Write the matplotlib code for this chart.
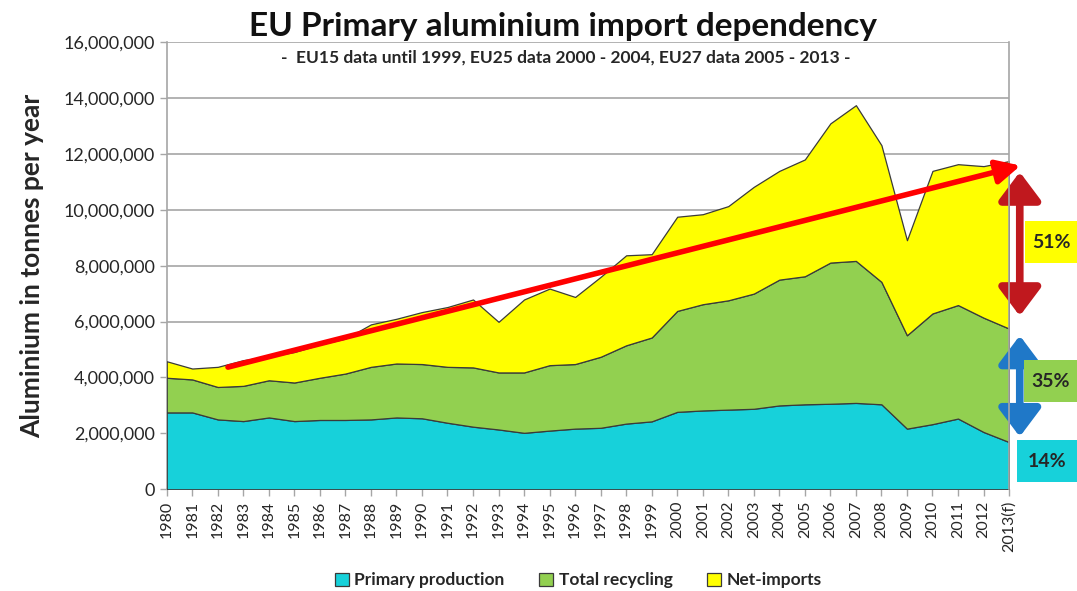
import matplotlib.pyplot as plt
from matplotlib.patches import Rectangle
import numpy as np

# ── Data (tonnes per year) ─────────────────────────────────────────────────
YEARS = list(range(1980, 2014))
YEAR_LABELS = [str(y) for y in range(1980, 2013)] + ["2013(f)"]

PRIMARY = [2.75, 2.75, 2.50, 2.44, 2.57, 2.44, 2.48, 2.48, 2.50, 2.57,
           2.54, 2.38, 2.24, 2.14, 2.02, 2.10, 2.17, 2.20, 2.35, 2.43,
           2.77, 2.82, 2.85, 2.88, 3.00, 3.04, 3.06, 3.09, 3.04, 2.17,
           2.33, 2.53, 2.05, 1.69]
RECYCLING = [1.24, 1.18, 1.16, 1.26, 1.33, 1.38, 1.51, 1.66, 1.88, 1.93,
             1.94, 2.00, 2.12, 2.04, 2.16, 2.34, 2.31, 2.54, 2.80, 3.00,
             3.61, 3.80, 3.91, 4.12, 4.50, 4.58, 5.05, 5.08, 4.38, 3.34,
             3.96, 4.06, 4.09, 4.06]
NET_IMPORTS = [0.59, 0.39, 0.72, 0.92, 0.85, 1.09, 1.19, 1.25, 1.52, 1.60,
               1.86, 2.14, 2.43, 1.81, 2.61, 2.74, 2.40, 2.86, 3.22, 2.98,
               3.37, 3.22, 3.37, 3.82, 3.89, 4.18, 4.98, 5.57, 4.89, 3.40,
               5.10, 5.04, 5.42, 5.99]

SERIES_NAMES = ["Primary production", "Total recycling", "Net-imports"]
SHARES_2013 = ["14%", "35%", "51%"]

# trend arrow (year, tonnes)
TREND_START = (1982.4, 4.37e6)
TREND_END = (2013.45, 11.58e6)

# ── Style ─────────────────────────────────────────────────────────────────
plt.rcParams["font.family"] = ["Lato", "DejaVu Sans"]

CYAN = "#17D1DA"
GREEN = "#92D050"
YELLOW = "#FFFF00"
EDGE = "#3a3a3a"
GRID = "#a6a6a6"
TXT = "#262626"

fig = plt.figure(figsize=(10.77, 5.91), dpi=100)
ax = fig.add_axes([0.1548, 0.1721, 0.7821, 0.7568])

scale = 1e6
prim = np.array(PRIMARY) * scale
recy = np.array(RECYCLING) * scale
imp = np.array(NET_IMPORTS) * scale

ax.stackplot(YEARS, prim, recy, imp, colors=[CYAN, GREEN, YELLOW],
             edgecolor=EDGE, linewidth=0.9, labels=SERIES_NAMES, zorder=3)

ax.set_xlim(1980, 2013)
ax.set_ylim(0, 16e6)
ax.set_yticks(np.arange(0, 16e6 + 1, 2e6))
ax.yaxis.set_major_formatter(plt.FuncFormatter(lambda v, p: f"{int(v):,}"))
ax.set_xticks(YEARS)
ax.set_xticklabels(YEAR_LABELS, rotation=90)
ax.tick_params(axis="both", colors=GRID, labelcolor=TXT, labelsize=13,
               length=5, width=1)
ax.tick_params(axis="x", labelsize=11.5, pad=3)
ax.yaxis.grid(True, color=GRID, lw=1.2, zorder=0)
for s in ["left", "bottom", "right"]:
    ax.spines[s].set_color(GRID)
    ax.spines[s].set_linewidth(1.2)
ax.spines["top"].set_visible(False)
ax.spines["right"].set_zorder(5)

ax.set_ylabel("Aluminium in tonnes per year", fontsize=19, fontweight="bold",
              color=TXT, labelpad=14)

# titles
fig.text(0.523, 0.956, "EU Primary aluminium import dependency",
         ha="center", va="center", fontsize=24, fontweight="bold", color="#111111")
fig.text(0.525, 0.902,
         "-  EU15 data until 1999, EU25 data 2000 - 2004, EU27 data 2005 - 2013 -",
         ha="center", va="center", fontsize=12.5, fontweight="bold", color=TXT)

# red trend arrow
ax.annotate("", xy=TREND_END, xytext=TREND_START,
            arrowprops=dict(arrowstyle="-|>,head_length=0.9,head_width=0.45",
                            color="#FF0000", lw=4, mutation_scale=16,
                            shrinkA=0, shrinkB=0),
            annotation_clip=False, zorder=6)

# double arrows to the right of the chart
ax.annotate("", xy=(2013.42, 11.35e6), xytext=(2013.42, 6.2e6),
            arrowprops=dict(arrowstyle="<|-|>,head_length=1.0,head_width=0.75",
                            color="#C0181E", lw=5.5, mutation_scale=17,
                            shrinkA=0, shrinkB=0),
            annotation_clip=False)
ax.annotate("", xy=(2013.42, 5.5e6), xytext=(2013.42, 1.88e6),
            arrowprops=dict(arrowstyle="<|-|>,head_length=1.0,head_width=0.75",
                            color="#1F78C8", lw=5.5, mutation_scale=17,
                            shrinkA=0, shrinkB=0),
            annotation_clip=False)

# share boxes
boxes = [(0.9443, 0.1844, 0.0557, CYAN, SHARES_2013[0]),
         (0.9508, 0.3198, 0.0492, GREEN, SHARES_2013[1]),
         (0.9517, 0.5550, 0.0483, YELLOW, SHARES_2013[2])]
for x0, y0, w, col, lab in boxes:
    fig.add_artist(Rectangle((x0, y0), w, 0.0705, transform=fig.transFigure,
                             facecolor=col, edgecolor="none"))
    fig.text(x0 + w / 2, y0 + 0.0352, lab, ha="center", va="center",
             fontsize=14, fontweight="bold", color=TXT)

# legend
leg = fig.legend(*ax.get_legend_handles_labels(), loc="center",
                 bbox_to_anchor=(0.537, 0.018), ncol=3, frameon=False,
                 fontsize=12.5, handlelength=0.8, handleheight=0.8,
                 handletextpad=0.3, columnspacing=2.0)
for t in leg.get_texts():
    t.set_fontweight("bold")
    t.set_color(TXT)
for h in leg.legend_handles:
    h.set_edgecolor(EDGE)
    h.set_linewidth(0.9)

fig.savefig("out.png", dpi=100)
